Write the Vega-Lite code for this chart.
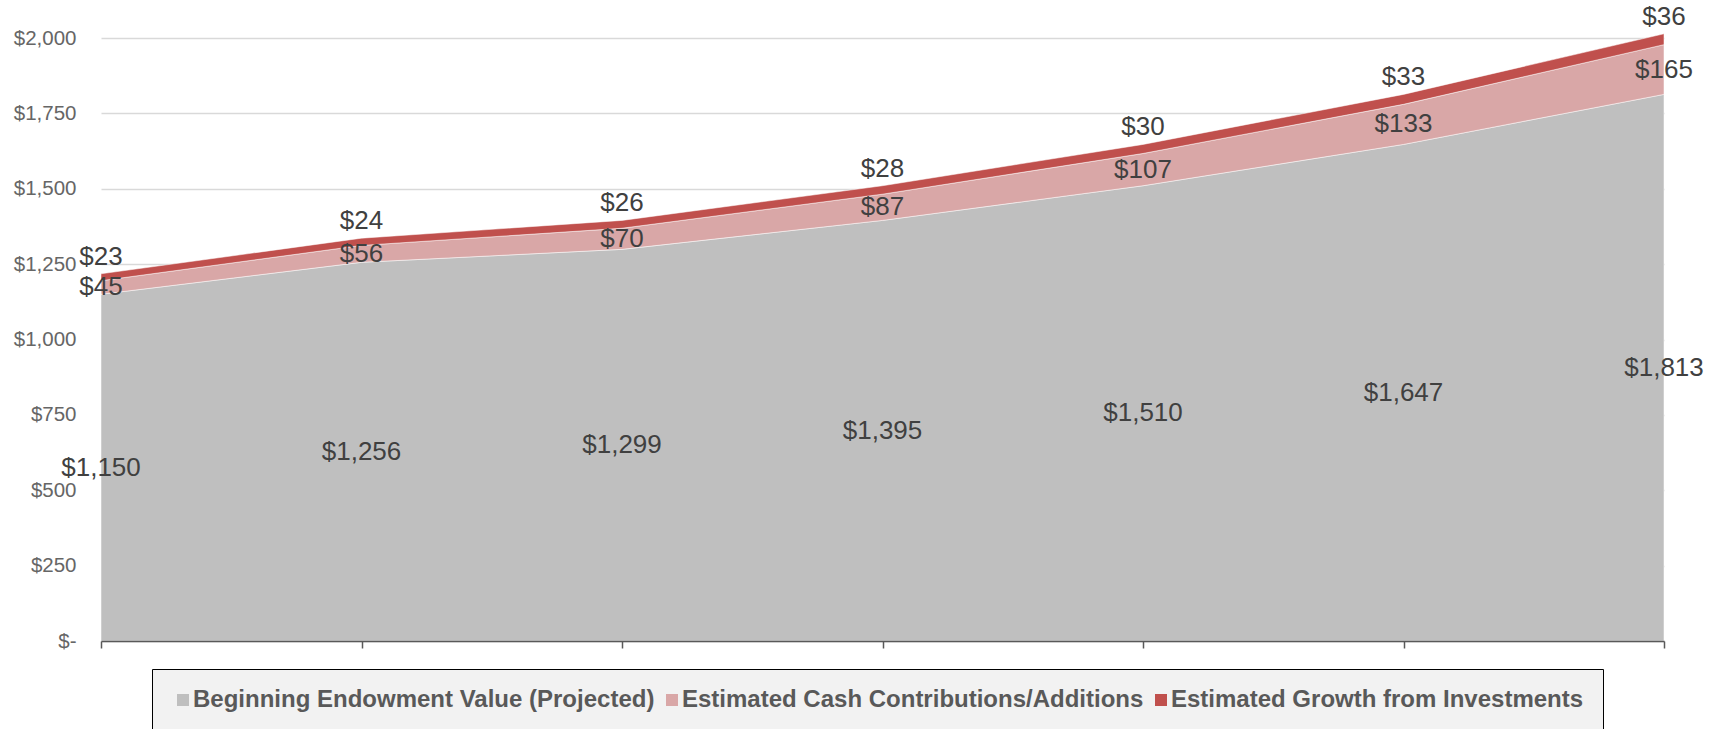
{
  "$schema": "https://vega.github.io/schema/vega-lite/v6.json",
  "width": 1563,
  "height": 603,
  "autosize": {"type": "none"},
  "padding": {"left": 101, "top": 38, "right": 61, "bottom": 88},
  "background": "white",
  "config": {"view": {"stroke": null}},
  "data": {
    "values": [
      {"t": 0, "series": "Beginning Endowment Value (Projected)", "k": 1, "value": 1150},
      {"t": 0, "series": "Estimated Cash Contributions/Additions", "k": 2, "value": 45},
      {"t": 0, "series": "Estimated Growth from Investments", "k": 3, "value": 23},
      {"t": 1, "series": "Beginning Endowment Value (Projected)", "k": 1, "value": 1256},
      {"t": 1, "series": "Estimated Cash Contributions/Additions", "k": 2, "value": 56},
      {"t": 1, "series": "Estimated Growth from Investments", "k": 3, "value": 24},
      {"t": 2, "series": "Beginning Endowment Value (Projected)", "k": 1, "value": 1299},
      {"t": 2, "series": "Estimated Cash Contributions/Additions", "k": 2, "value": 70},
      {"t": 2, "series": "Estimated Growth from Investments", "k": 3, "value": 26},
      {"t": 3, "series": "Beginning Endowment Value (Projected)", "k": 1, "value": 1395},
      {"t": 3, "series": "Estimated Cash Contributions/Additions", "k": 2, "value": 87},
      {"t": 3, "series": "Estimated Growth from Investments", "k": 3, "value": 28},
      {"t": 4, "series": "Beginning Endowment Value (Projected)", "k": 1, "value": 1510},
      {"t": 4, "series": "Estimated Cash Contributions/Additions", "k": 2, "value": 107},
      {"t": 4, "series": "Estimated Growth from Investments", "k": 3, "value": 30},
      {"t": 5, "series": "Beginning Endowment Value (Projected)", "k": 1, "value": 1647},
      {"t": 5, "series": "Estimated Cash Contributions/Additions", "k": 2, "value": 133},
      {"t": 5, "series": "Estimated Growth from Investments", "k": 3, "value": 33},
      {"t": 6, "series": "Beginning Endowment Value (Projected)", "k": 1, "value": 1813},
      {"t": 6, "series": "Estimated Cash Contributions/Additions", "k": 2, "value": 165},
      {"t": 6, "series": "Estimated Growth from Investments", "k": 3, "value": 36}
    ]
  },
  "transform": [
    {"stack": "value", "groupby": ["t"], "sort": [{"field": "k", "order": "ascending"}], "as": ["y0", "y1"]},
    {"calculate": "(datum.y0 + datum.y1) / 2", "as": "ymid"}
  ],
  "encoding": {
    "x": {
      "field": "t",
      "type": "quantitative",
      "scale": {"domain": [0, 6], "nice": false, "zero": false},
      "axis": {
        "title": null,
        "labels": false,
        "grid": false,
        "values": [0, 1, 2, 3, 4, 5, 6],
        "domainColor": "#595959",
        "domainWidth": 1.5,
        "tickColor": "#595959",
        "tickWidth": 1.5,
        "tickSize": 7,
        "zindex": 2,
        "encode": {"ticks": {"update": {"y": {"value": -9}}}}
      }
    }
  },
  "layer": [
    {
      "mark": {"type": "area", "stroke": "white", "strokeWidth": 1, "strokeOpacity": 0.5},
      "encoding": {
        "y": {
          "field": "y1",
          "type": "quantitative",
          "scale": {"domain": [0, 2000], "nice": false},
          "axis": {
            "title": null,
            "values": [0, 250, 500, 750, 1000, 1250, 1500, 1750, 2000],
            "labelExpr": "datum.value == 0 ? '$-' : '$' + format(datum.value, ',')",
            "domain": false,
            "ticks": false,
            "grid": true,
            "gridColor": "#d9d9d9",
            "gridWidth": 1.5,
            "labelFont": "Liberation Sans",
            "labelFontSize": 20.5,
            "labelColor": "#666666",
            "labelPadding": 25
          }
        },
        "y2": {"field": "y0"},
        "color": {
          "field": "series",
          "type": "nominal",
          "scale": {
            "domain": ["Beginning Endowment Value (Projected)", "Estimated Cash Contributions/Additions", "Estimated Growth from Investments"],
            "range": ["#bfbfbf", "#d9a7a7", "#c0504d"]
          },
          "legend": {
            "title": null,
            "orient": "none",
            "legendX": 51,
            "legendY": 631,
            "direction": "horizontal",
            "fillColor": "#f2f2f2",
            "strokeColor": "#000000",
            "padding": 19,
            "symbolType": "square",
            "symbolSize": 144,
            "symbolStrokeWidth": 0,
            "labelFont": "Liberation Sans",
            "labelFontWeight": "bold",
            "labelFontSize": 24,
            "labelColor": "#595959",
            "labelOffset": -2,
            "columnPadding": 5,
            "labelLimit": 700
          }
        },
        "order": {"field": "k", "type": "quantitative"}
      }
    },
    {
      "transform": [{"filter": "datum.k < 3"}],
      "mark": {"type": "text", "font": "Liberation Sans", "fontSize": 26, "color": "#404040", "baseline": "middle", "align": "center"},
      "encoding": {
        "y": {"field": "ymid", "type": "quantitative"},
        "text": {"field": "value", "type": "quantitative", "format": "$,.0f"}
      }
    },
    {
      "transform": [{"filter": "datum.k == 3"}],
      "mark": {"type": "text", "font": "Liberation Sans", "fontSize": 26, "color": "#404040", "baseline": "middle", "align": "center", "dy": -17},
      "encoding": {
        "y": {"field": "y1", "type": "quantitative"},
        "text": {"field": "value", "type": "quantitative", "format": "$,.0f"}
      }
    }
  ]
}
